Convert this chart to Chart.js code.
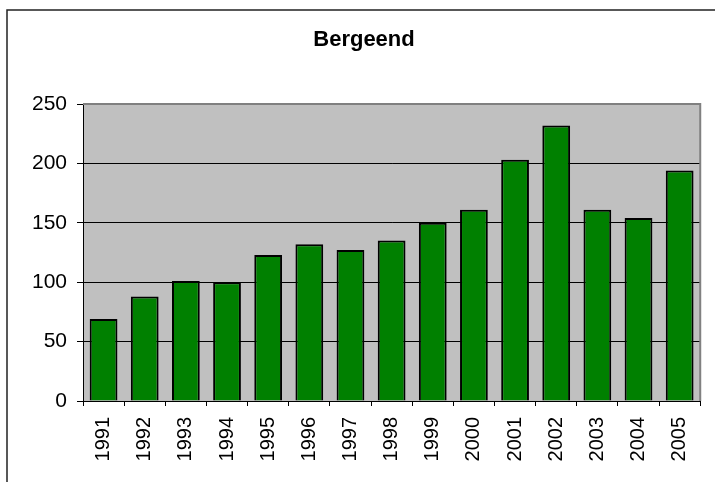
<!DOCTYPE html>
<html lang="nl">
  <head>
    <meta charset="UTF-8" />
    <title>Bergeend</title>
    <style>
      html, body {
        margin: 0;
        padding: 0;
        background: #ffffff;
      }
      #wrap {
        width: 715px;
        height: 482px;
      }
    </style>
    <script src="https://cdn.jsdelivr.net/npm/chart.js"></script>
  </head>
  <body>
    <div id="wrap"><canvas id="chart"></canvas></div>
    <script>
      // data
      const years = ["1991", "1992", "1993", "1994", "1995", "1996", "1997", "1998",
        "1999", "2000", "2001", "2002", "2003", "2004", "2005"];
      const counts = [69, 88, 101, 100, 123, 132, 127, 135, 150, 161, 203, 232, 161, 154, 194];
      const yTicks = [0, 50, 100, 150, 200, 250];

      const fontFamily = "'Liberation Sans', Arial, sans-serif";

      // grey plot area, outer frame lines
      const backdrop = {
        id: "backdrop",
        beforeDraw(chart) {
          const { ctx, chartArea: a } = chart;
          ctx.save();
          ctx.fillStyle = "#c0c0c0";
          ctx.fillRect(a.left, a.top, a.right - a.left, a.bottom - a.top);
          ctx.strokeStyle = "#222222";
          ctx.lineWidth = 1.5;
          ctx.beginPath();
          ctx.moveTo(7, chart.height);
          ctx.lineTo(7, 10);
          ctx.lineTo(chart.width, 10);
          ctx.stroke();
          ctx.restore();
        },
        afterDatasetsDraw(chart) {
          const { ctx, chartArea: a } = chart;
          ctx.save();
          ctx.strokeStyle = "#808080";
          ctx.lineWidth = 2;
          ctx.beginPath();
          ctx.moveTo(a.left, a.top);
          ctx.lineTo(a.right, a.top);
          ctx.lineTo(a.right, a.bottom);
          ctx.stroke();
          ctx.restore();
        },
      };

      new Chart(document.getElementById("chart"), {
        type: "bar",
        data: {
          labels: years,
          datasets: [
            {
              data: counts,
              backgroundColor: "#008000",
              borderColor: "#000000",
              borderWidth: 2,
              categoryPercentage: 1,
              barPercentage: 0.675,
            },
          ],
        },
        options: {
          responsive: true,
          maintainAspectRatio: false,
          animation: false,
          layout: { padding: { left: 23, right: 10, top: 10, bottom: 0 } },
          plugins: {
            legend: { display: false },
            tooltip: { enabled: false },
            title: {
              display: true,
              text: "Bergeend",
              color: "#000000",
              font: { family: fontFamily, size: 22, weight: "bold" },
              padding: { top: 17, bottom: 50.6 },
            },
          },
          scales: {
            x: {
              grid: {
                offset: true,
                drawOnChartArea: false,
                drawTicks: true,
                tickLength: 5,
                color: "#000000",
              },
              border: { color: "#000000", width: 1 },
              ticks: {
                color: "#000000",
                font: { family: fontFamily, size: 20 },
                minRotation: 90,
                maxRotation: 90,
                autoSkip: false,
                padding: 11,
              },
              afterFit(scale) {
                scale.height = 81;
              },
            },
            y: {
              min: 0,
              max: 250,
              afterBuildTicks(scale) {
                scale.ticks = yTicks.map((v) => ({ value: v }));
              },
              grid: {
                color: "#000000",
                lineWidth: 1,
                tickLength: 6,
              },
              border: { color: "#000000", width: 1 },
              ticks: {
                color: "#000000",
                font: { family: fontFamily, size: 21 },
                padding: 10,
              },
              afterFit(scale) {
                scale.width = 60;
              },
            },
          },
        },
        plugins: [backdrop],
      });
    </script>
  </body>
</html>
